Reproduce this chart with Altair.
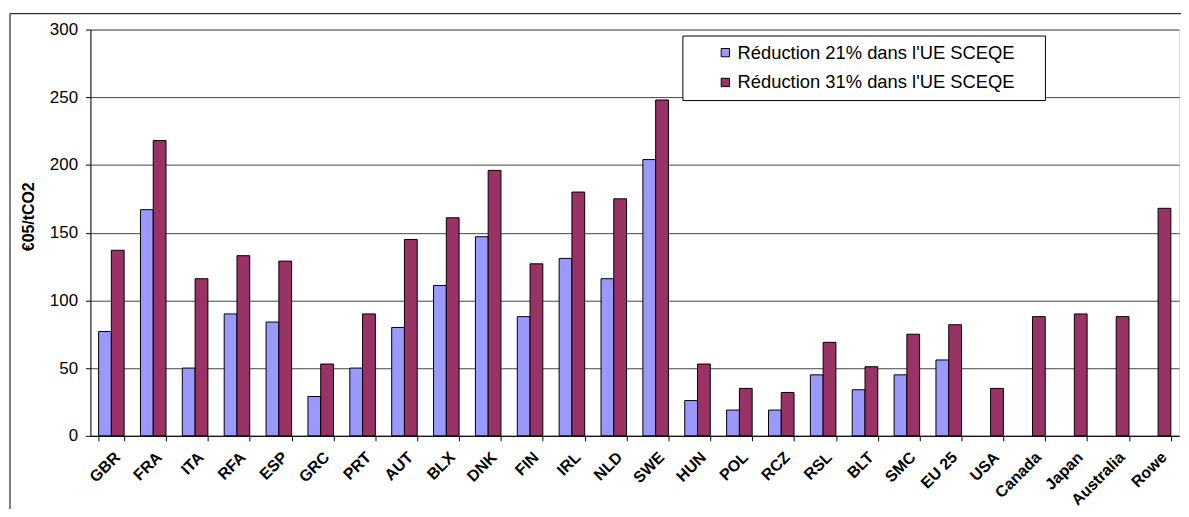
import altair as alt
import pandas as pd

categories = ["GBR", "FRA", "ITA", "RFA", "ESP", "GRC", "PRT", "AUT", "BLX", "DNK",
              "FIN", "IRL", "NLD", "SWE", "HUN", "POL", "RCZ", "RSL", "BLT", "SMC",
              "EU 25", "USA", "Canada", "Japan", "Australia", "Rowe"]
red21 = [77, 167, 50, 90, 84, 29, 50, 80, 111, 147, 88, 131, 116, 204, 26, 19, 19, 45,
         34, 45, 56, None, None, None, None, None]
red31 = [137, 218, 116, 133, 129, 53, 90, 145, 161, 196, 127, 180, 175, 248, 53, 35, 32,
         69, 51, 75, 82, 35, 88, 90, 88, 168]
series = ["Réduction 21% dans l'UE SCEQE", "Réduction 31% dans l'UE SCEQE"]
colors = ["#9999FF", "#993366"]
y_ticks = [0, 50, 100, 150, 200, 250, 300]

rows = []
for c, a, b in zip(categories, red21, red31):
    if a is not None:
        rows.append({"pays": c, "serie": series[0], "valeur": a})
    if b is not None:
        rows.append({"pays": c, "serie": series[1], "valeur": b})
df = pd.DataFrame(rows)

FONT = "Liberation Sans"

bars = alt.Chart(df).mark_bar(stroke="black", strokeWidth=1).encode(
    x=alt.X("pays:N", sort=categories,
            scale=alt.Scale(paddingInner=0.39, paddingOuter=0.195),
            axis=alt.Axis(title=None, labelAngle=-45, labelFont=FONT, labelFontSize=16,
                          labelFontWeight="bold", labelColor="black", tickBand="extent",
                          tickSize=5, tickColor="black", domainColor="black",
                          labelPadding=8, grid=False)),
    xOffset=alt.XOffset("serie:N", sort=series, scale=alt.Scale(paddingInner=0, paddingOuter=0)),
    y=alt.Y("valeur:Q", scale=alt.Scale(domain=[0, 300], nice=False),
            axis=alt.Axis(title="€05/tCO2", values=y_ticks, labelFont=FONT, labelFontSize=17,
                          labelColor="black", labelPadding=8, tickSize=5, tickColor="black",
                          domainColor="black", gridColor="#444444", gridWidth=1,
                          titleFont=FONT, titleFontSize=16, titleFontWeight="bold",
                          titleColor="black", titleX=-62, titleY=188, titleAngle=270,
                          titleBaseline="middle", titleAlign="center")),
    color=alt.Color("serie:N", sort=series,
                    scale=alt.Scale(domain=series, range=colors),
                    legend=alt.Legend(title=" ", titleOrient="right", titlePadding=22,
                                      orient="none", legendX=596, legendY=6,
                                      fillColor="white", strokeColor="black", padding=8,
                                      symbolOffset=26, symbolType="square", symbolSize=70,
                                      symbolStrokeColor="black", symbolStrokeWidth=1,
                                      labelFont=FONT, labelFontSize=18.5, labelColor="black",
                                      labelLimit=500, rowPadding=11, labelOffset=3)),
)

one = pd.DataFrame({"k": [0]})
left_border = alt.Chart(one).mark_rule(color="black", strokeWidth=1).encode(
    x=alt.value(-81), y=alt.value(-16), y2=alt.value(520))
top_border = alt.Chart(one).mark_rule(color="black", strokeWidth=1).encode(
    x=alt.value(-81), x2=alt.value(1110), y=alt.value(-16))

chart = alt.layer(bars, left_border, top_border).properties(
    width=1096, height=409,
    autosize=alt.AutoSizeParams(type="none"),
    padding={"left": 83, "top": 20, "right": 2, "bottom": 72},
).configure_view(stroke="#808080").configure(background="white")

chart.save("out.html", embed_options={"renderer": "svg", "actions": False})
